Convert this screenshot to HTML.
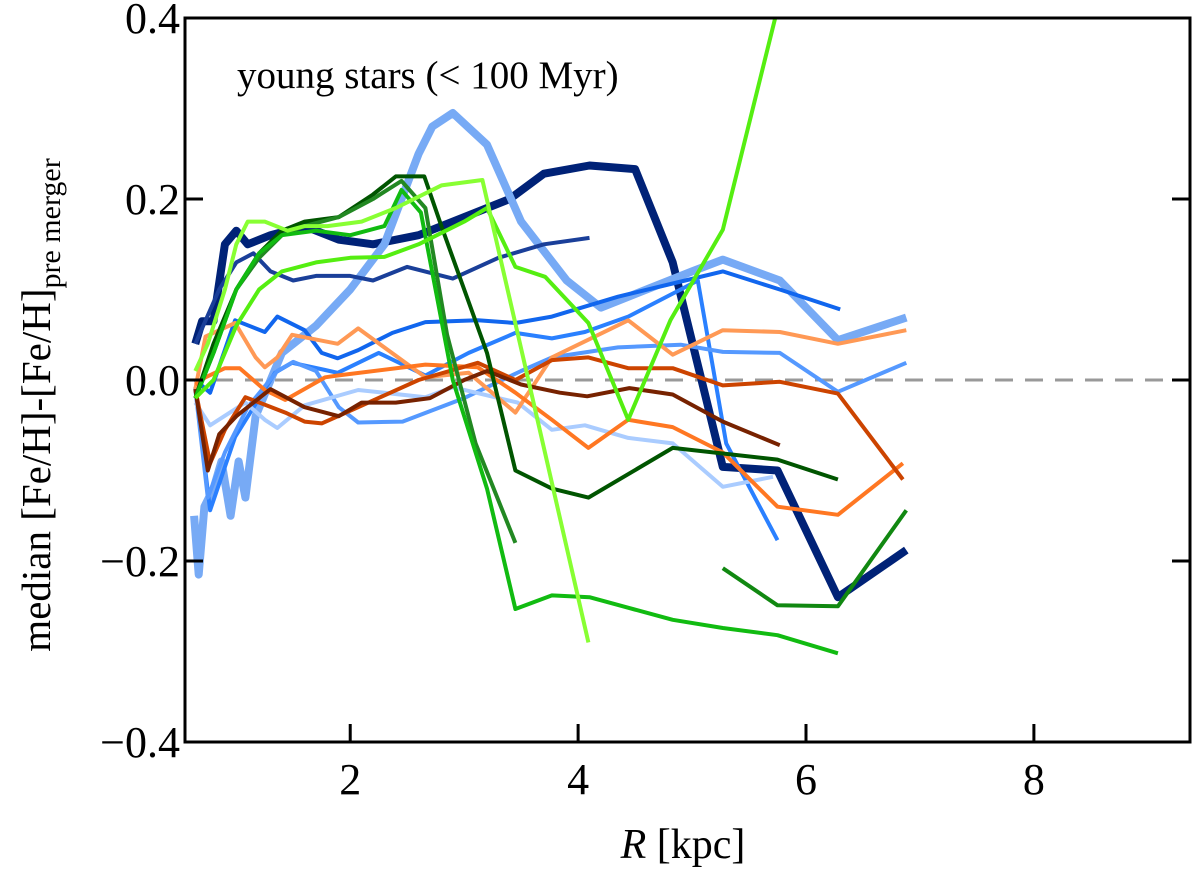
<!DOCTYPE html>
<html><head><meta charset="utf-8"><style>
html,body{margin:0;padding:0;background:#fff;}
svg{display:block;font-family:"Liberation Serif",serif;}
</style></head><body>
<svg id="chart" width="1200" height="870" viewBox="0 0 1200 870">
<defs><clipPath id="plotclip"><rect x="185" y="18" width="1005" height="724"/></clipPath></defs>
<g id="marks" clip-path="url(#plotclip)"></g>
<g id="axes"></g>
<text x="237" y="88" font-size="39">young stars (&lt; 100 Myr)</text>
<text x="683" y="858" font-size="42" text-anchor="middle"><tspan font-style="italic">R</tspan> [kpc]</text>
<text transform="translate(50,405) rotate(-90)" font-size="41" text-anchor="middle">median [Fe/H]-[Fe/H]<tspan font-size="30" dy="10">pre merger</tspan></text>
</svg>
<script>
const xTicks=[2,4,6,8];
const yTicks=[-0.4,-0.2,0.0,0.2,0.4];
const yTickLabels=["\u22120.4","\u22120.2","0.0","0.2","0.4"];
const seriesNames=["navy-thick","lightblue-thick","navy-thin","blue-a","blue-b","blue-mid","blue-pale","orange-light","orange","orange-dark","brown","green-dark","green-mid","green-bright","green-segment","green-lime","green-light"];
const seriesColors=["#002277","#77aaf5","#1a3f99","#1166ee","#2a80ff","#5599ff","#aaccff","#ff9955","#ff7722","#cc4400","#772200","#005500","#228822","#11bb11","#118811","#55ee11","#88ff33"];
const seriesWidths=[8,8,4,4,4,4,4,4,4,4,4,4,4,4,4,4,4];
const sNavyThick=[[0.64,0.04],[0.7,0.065],[0.8,0.065],[0.9,0.15],[1.0,0.165],[1.1,0.15],[1.3,0.16],[1.6,0.17],[1.9,0.155],[2.2,0.15],[2.6,0.16],[3.0,0.18],[3.4,0.2],[3.7,0.228],[4.1,0.237],[4.5,0.233],[4.83,0.13],[5.27,-0.096],[5.75,-0.1],[6.28,-0.24],[6.88,-0.188]];
const sLightBlueThick=[[0.63,-0.15],[0.67,-0.215],[0.72,-0.14],[0.8,-0.12],[0.87,-0.09],[0.95,-0.15],[1.02,-0.09],[1.08,-0.13],[1.17,-0.04],[1.4,0.03],[1.7,0.06],[2.0,0.1],[2.3,0.15],[2.6,0.25],[2.72,0.28],[2.9,0.295],[3.2,0.26],[3.5,0.175],[3.9,0.11],[4.2,0.08],[4.6,0.1],[5.0,0.12],[5.27,0.133],[5.77,0.11],[6.28,0.044],[6.88,0.069]];
const sNavyThin=[[0.64,0.04],[0.85,0.1],[1.0,0.13],[1.15,0.14],[1.3,0.12],[1.5,0.11],[1.7,0.115],[2.0,0.115],[2.2,0.11],[2.5,0.125],[2.9,0.112],[3.3,0.135],[3.7,0.15],[4.1,0.157]];
const sBlueA=[[0.64,0.0],[0.77,-0.014],[0.99,0.066],[1.25,0.053],[1.36,0.07],[1.6,0.055],[1.75,0.03],[1.89,0.024],[2.07,0.033],[2.37,0.052],[2.66,0.064],[3.12,0.066],[3.45,0.063],[3.77,0.07],[4.35,0.092],[4.94,0.11],[5.27,0.12],[5.77,0.1],[6.3,0.078]];
const sBlueB=[[0.64,-0.008],[0.77,-0.144],[0.99,-0.063],[1.34,0.008],[1.49,0.019],[1.78,0.011],[1.89,0.008],[2.25,0.03],[2.66,0.005],[3.04,0.03],[3.45,0.052],[3.77,0.046],[4.06,0.053],[4.44,0.07],[4.9,0.1],[5.05,0.11],[5.3,-0.07],[5.75,-0.177]];
const sBlueMid=[[0.64,-0.01],[0.75,-0.13],[0.9,-0.08],[1.1,-0.03],[1.36,0.01],[1.5,0.02],[1.7,0.01],[1.9,-0.03],[2.07,-0.047],[2.46,-0.046],[3.0,-0.02],[3.5,0.01],[3.77,0.025],[4.35,0.036],[4.9,0.039],[5.27,0.031],[5.77,0.03],[6.28,-0.013],[6.88,0.019]];
const sBluePale=[[0.64,-0.025],[0.77,-0.05],[1.08,-0.025],[1.25,-0.044],[1.36,-0.053],[1.6,-0.028],[2.07,-0.011],[2.66,-0.019],[2.9,-0.008],[3.47,-0.025],[3.77,-0.055],[4.06,-0.05],[4.44,-0.064],[4.83,-0.07],[5.27,-0.118],[5.71,-0.107]];
const sOrangeLight=[[0.64,-0.01],[0.73,0.048],[0.99,0.063],[1.17,0.025],[1.25,0.014],[1.36,0.025],[1.49,0.05],[1.89,0.04],[2.07,0.057],[2.66,0.003],[3.04,0.008],[3.45,-0.036],[3.77,0.025],[4.44,0.066],[4.83,0.028],[5.27,0.055],[5.77,0.053],[6.28,0.04],[6.88,0.055]];
const sOrange=[[0.64,-0.005],[0.73,0.003],[0.9,0.013],[1.03,0.013],[1.25,-0.011],[1.43,-0.022],[1.78,0.003],[1.89,0.005],[2.66,0.017],[3.12,0.014],[3.45,-0.014],[3.77,-0.044],[4.09,-0.075],[4.44,-0.044],[4.83,-0.052],[5.27,-0.08],[5.75,-0.14],[6.28,-0.149],[6.85,-0.092]];
const sOrangeDark=[[0.64,-0.01],[0.77,-0.092],[0.9,-0.055],[1.08,-0.019],[1.43,-0.036],[1.6,-0.046],[1.75,-0.048],[2.07,-0.03],[2.6,0.0],[3.12,0.019],[3.45,0.0],[3.77,0.022],[4.09,0.025],[4.44,0.013],[4.83,0.013],[5.27,-0.006],[5.77,-0.002],[6.28,-0.015],[6.85,-0.11]];
const sBrown=[[0.64,-0.01],[0.75,-0.1],[0.85,-0.06],[1.0,-0.04],[1.3,-0.01],[1.6,-0.03],[1.9,-0.04],[2.1,-0.025],[2.4,-0.025],[2.7,-0.02],[3.0,0.0],[3.2,0.01],[3.5,-0.005],[3.84,-0.014],[4.08,-0.018],[4.45,-0.009],[4.83,-0.016],[5.27,-0.046],[5.77,-0.072]];
const sGreenDark=[[0.64,-0.02],[0.8,0.04],[1.0,0.1],[1.2,0.14],[1.4,0.165],[1.6,0.175],[1.9,0.18],[2.2,0.205],[2.4,0.225],[2.65,0.225],[2.8,0.17],[3.0,0.1],[3.2,0.03],[3.45,-0.1],[3.77,-0.12],[4.09,-0.13],[4.83,-0.075],[5.75,-0.088],[6.28,-0.11]];
const sGreenMid=[[0.64,-0.02],[0.8,0.03],[1.0,0.1],[1.2,0.135],[1.4,0.16],[1.6,0.17],[1.9,0.18],[2.2,0.2],[2.45,0.22],[2.66,0.19],[2.85,0.05],[3.1,-0.07],[3.45,-0.18]];
const sGreen=[[0.64,-0.02],[0.8,0.03],[1.0,0.1],[1.2,0.14],[1.4,0.16],[1.7,0.165],[2.0,0.16],[2.3,0.17],[2.45,0.21],[2.62,0.185],[2.9,0.0],[3.2,-0.12],[3.45,-0.253],[3.77,-0.238],[4.1,-0.24],[4.45,-0.252],[4.83,-0.265],[5.27,-0.274],[5.75,-0.282],[6.28,-0.302]];
const sGreenSeg=[[5.27,-0.208],[5.75,-0.249],[6.28,-0.25],[6.88,-0.144]];
const sLime=[[0.64,-0.02],[0.8,0.0],[1.0,0.06],[1.2,0.1],[1.4,0.12],[1.7,0.13],[2.0,0.135],[2.3,0.136],[2.6,0.15],[3.0,0.175],[3.2,0.19],[3.45,0.125],[3.71,0.114],[4.09,0.063],[4.44,-0.044],[4.81,0.066],[5.27,0.166],[5.73,0.4],[5.9,0.48]];
const sLight=[[0.64,0.01],[0.75,0.04],[0.9,0.1],[1.0,0.15],[1.1,0.175],[1.25,0.175],[1.45,0.165],[1.6,0.17],[1.8,0.17],[2.1,0.175],[2.4,0.19],[2.8,0.215],[3.16,0.221],[3.6,-0.02],[4.09,-0.29]];
const allSeries=[sNavyThick,sLightBlueThick,sNavyThin,sBlueA,sBlueB,sBlueMid,sBluePale,sOrangeLight,sOrange,sOrangeDark,sBrown,sGreenDark,sGreenMid,sGreen,sGreenSeg,sLime,sLight];

const NS="http://www.w3.org/2000/svg";
const X0=185,X1=1190,Y0=18,Y1=742,xMin=0.55,xMax=9.37,yMin=-0.4,yMax=0.4;
function xs(v){return X0+(v-xMin)/(xMax-xMin)*(X1-X0);}
function ys(v){return Y1-(v-yMin)/(yMax-yMin)*(Y1-Y0);}
const marks=document.getElementById('marks');
const axes=document.getElementById('axes');

const zero=document.createElementNS(NS,'line');


zero.setAttribute('x1',X0);zero.setAttribute('x2',X1);
zero.setAttribute('y1',ys(0));zero.setAttribute('y2',ys(0));
zero.setAttribute('stroke','#999');zero.setAttribute('stroke-width','3');zero.setAttribute('stroke-dasharray','18,12');
marks.appendChild(zero);

allSeries.forEach(function(s,i){
  const p=document.createElementNS(NS,'polyline');
  
  
  p.setAttribute('points',s.map(function(d){return xs(d[0]).toFixed(1)+','+ys(d[1]).toFixed(1);}).join(' '));
  p.setAttribute('fill','none');
  p.setAttribute('stroke',seriesColors[i]);
  p.setAttribute('stroke-width',seriesWidths[i]);
  p.setAttribute('stroke-linejoin','round');
  marks.appendChild(p);
});

const frame=document.createElementNS(NS,'rect');


frame.setAttribute('x',X0);frame.setAttribute('y',Y0);frame.setAttribute('width',X1-X0);frame.setAttribute('height',Y1-Y0);
frame.setAttribute('fill','none');frame.setAttribute('stroke','#000');frame.setAttribute('stroke-width','3');
axes.appendChild(frame);

xTicks.forEach(function(t){
  const l=document.createElementNS(NS,'line');
  
  
  l.setAttribute('x1',xs(t));l.setAttribute('x2',xs(t));l.setAttribute('y1',Y1);l.setAttribute('y2',Y1-18);
  l.setAttribute('stroke','#000');l.setAttribute('stroke-width','3');
  axes.appendChild(l);
  const tx=document.createElementNS(NS,'text');
  
  
  tx.setAttribute('x',xs(t));tx.setAttribute('y',Y1+52);tx.setAttribute('font-size','44');tx.setAttribute('text-anchor','middle');
  tx.textContent=String(t);
  axes.appendChild(tx);
});
yTicks.forEach(function(t,i){
  [[X0,X0+18],[X1,X1-18]].forEach(function(e){
    const l=document.createElementNS(NS,'line');
    
    
    l.setAttribute('x1',e[0]);l.setAttribute('x2',e[1]);l.setAttribute('y1',ys(t));l.setAttribute('y2',ys(t));
    l.setAttribute('stroke','#000');l.setAttribute('stroke-width','3');
    axes.appendChild(l);
  });
  const tx=document.createElementNS(NS,'text');
  
  
  tx.setAttribute('x',X0-5);tx.setAttribute('y',ys(t)+15);tx.setAttribute('font-size','44');tx.setAttribute('text-anchor','end');
  tx.textContent=yTickLabels[i];
  axes.appendChild(tx);
});
</script>
</body></html>
